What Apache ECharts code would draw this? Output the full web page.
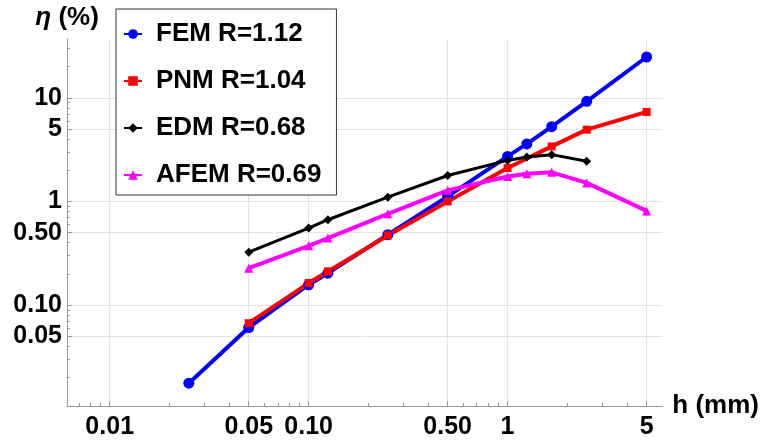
<!DOCTYPE html>
<html>
<head>
<meta charset="utf-8">
<script src="https://cdn.jsdelivr.net/npm/echarts@6/dist/echarts.min.js"></script>
<style>
html, body { margin: 0; padding: 0; background: #fff; }
#chart { width: 762px; height: 441px; }
</style>
</head>
<body>
<div id="chart"></div>
<script>
// Mesh size h (mm) and error eta (%) for each method
const hFEM = [0.025, 0.05, 0.1, 0.125, 0.25, 0.5, 1, 1.25, 1.667, 2.5, 5];
const etaFEM = [0.0176, 0.0606, 0.157, 0.203, 0.477, 1.12, 2.72, 3.59, 5.27, 9.25, 24.8];
const hPNM = [0.05, 0.1, 0.125, 0.25, 0.5, 1, 1.667, 2.5, 5];
const etaPNM = [0.0668, 0.163, 0.211, 0.47, 1.0, 2.10, 3.40, 4.93, 7.31];
const hEDM = [0.05, 0.1, 0.125, 0.25, 0.5, 1, 1.25, 1.667, 2.5];
const etaEDM = [0.324, 0.553, 0.666, 1.10, 1.78, 2.49, 2.69, 2.83, 2.44];
const hAFEM = [0.05, 0.1, 0.125, 0.25, 0.5, 1, 1.25, 1.667, 2.5, 5];
const etaAFEM = [0.227, 0.373, 0.443, 0.76, 1.28, 1.74, 1.85, 1.91, 1.51, 0.81];

const seriesNames = ['FEM R=1.12', 'PNM R=1.04', 'EDM R=0.68', 'AFEM R=0.69'];

// Labelled ticks
const xTickValues = [0.01, 0.05, 0.1, 0.5, 1, 5];
const xTickLabels = ['0.01', '0.05', '0.10', '0.50', '1', '5'];
const yTickValues = [0.05, 0.1, 0.5, 1, 5, 10];
const yTickLabels = ['0.05', '0.10', '0.50', '1', '5', '10'];
// Unlabelled minor ticks
const xMinorValues = [0.007, 0.008, 0.009, 0.02, 0.03, 0.04, 0.06, 0.07, 0.08, 0.09,
  0.2, 0.3, 0.4, 0.6, 0.7, 0.8, 0.9, 2, 3, 4];
const yMinorValues = [0.02, 0.03, 0.04, 0.06, 0.07, 0.08, 0.09, 0.2, 0.3, 0.4,
  0.6, 0.7, 0.8, 0.9, 2, 3, 4, 6, 7, 8, 9, 20, 30];

const X_MIN = 0.0061, X_MAX = 6.0;
const Y_MIN = 0.0106, Y_MAX = 37;

const FONT = '"Liberation Sans", Arial, sans-serif';
const axisGray = '#9a9a9a';
const gridGray = '#e4e4e4';

function pairs(xs, ys) { return xs.map((x, i) => [x, ys[i]]); }
function labelFor(values, labels) {
  return v => {
    for (let i = 0; i < values.length; i++) {
      if (Math.abs(v - values[i]) / values[i] < 1e-6) return labels[i];
    }
    return '';
  };
}

const chart = echarts.init(document.getElementById('chart'), null, { renderer: 'canvas' });

const baseX = { type: 'log', min: X_MIN, max: X_MAX, logBase: 10, position: 'bottom', offset: 0 };
const baseY = { type: 'log', min: Y_MIN, max: Y_MAX, logBase: 10, position: 'left', offset: 0 };

chart.setOption({
  animation: false,
  backgroundColor: '#fff',
  grid: { left: 67, right: 99, top: 39, bottom: 35, containLabel: false },
  legend: {
    orient: 'vertical',
    left: 116, top: 9,
    padding: [12, 15, 7, 7],
    itemGap: 21,
    itemWidth: 18, itemHeight: 12,
    borderColor: '#333', borderWidth: 1,
    backgroundColor: '#fff',
    data: seriesNames,
    textStyle: {
      fontFamily: FONT, fontWeight: 'bold', fontSize: 26, color: '#000',
      lineHeight: 26, padding: [0, 0, 0, 9]
    }
  },
  xAxis: [
    Object.assign({}, baseX, {
      name: 'h (mm)', nameLocation: 'end', nameGap: 10,
      nameTextStyle: { fontFamily: FONT, fontWeight: 'bold', fontSize: 26, color: '#000', verticalAlign: 'middle' },
      axisLine: { show: true, lineStyle: { color: axisGray, width: 1 } },
      axisTick: { show: true, inside: true, length: 5, customValues: xTickValues, lineStyle: { color: axisGray } },
      axisLabel: {
        customValues: xTickValues, formatter: labelFor(xTickValues, xTickLabels),
        fontFamily: FONT, fontWeight: 'bold', fontSize: 25, color: '#000', margin: 9
      },
      splitLine: { show: true, lineStyle: { color: gridGray, width: 1 } }
    }),
    Object.assign({}, baseX, {
      axisLine: { show: false },
      axisTick: { show: true, inside: true, length: 3, customValues: xMinorValues, lineStyle: { color: axisGray } },
      axisLabel: { show: false },
      splitLine: { show: false }
    })
  ],
  yAxis: [
    Object.assign({}, baseY, {
      name: '{i|η} {n|(%)}', nameLocation: 'end', nameGap: 8,
      nameTextStyle: {
        rich: {
          i: { fontFamily: FONT, fontWeight: 'bold', fontStyle: 'italic', fontSize: 26, color: '#000' },
          n: { fontFamily: FONT, fontWeight: 'bold', fontSize: 26, color: '#000', padding: [0, 0, 0, 4] }
        }
      },
      axisLine: { show: true, lineStyle: { color: axisGray, width: 1 } },
      axisTick: { show: true, inside: true, length: 5, customValues: yTickValues, lineStyle: { color: axisGray } },
      axisLabel: {
        customValues: yTickValues, formatter: labelFor(yTickValues, yTickLabels),
        fontFamily: FONT, fontWeight: 'bold', fontSize: 25, color: '#000', margin: 5
      },
      splitLine: { show: true, lineStyle: { color: gridGray, width: 1 } }
    }),
    Object.assign({}, baseY, {
      axisLine: { show: false },
      axisTick: { show: true, inside: true, length: 3, customValues: yMinorValues, lineStyle: { color: axisGray } },
      axisLabel: { show: false },
      splitLine: { show: false }
    })
  ],
  series: [
    {
      name: seriesNames[0], type: 'line', data: pairs(hFEM, etaFEM),
      symbol: 'circle', symbolSize: 11,
      lineStyle: { color: '#0000ff', width: 4 }, itemStyle: { color: '#0000ff' }
    },
    {
      name: seriesNames[1], type: 'line', data: pairs(hPNM, etaPNM),
      symbol: 'rect', symbolSize: 8,
      lineStyle: { color: '#ff0000', width: 4 }, itemStyle: { color: '#ff0000' }
    },
    {
      name: seriesNames[2], type: 'line', data: pairs(hEDM, etaEDM),
      symbol: 'diamond', symbolSize: [9, 9],
      lineStyle: { color: '#000000', width: 3 }, itemStyle: { color: '#000000' }
    },
    {
      name: seriesNames[3], type: 'line', data: pairs(hAFEM, etaAFEM),
      symbol: 'triangle', symbolSize: 9,
      lineStyle: { color: '#ff00ff', width: 4 }, itemStyle: { color: '#ff00ff' }
    }
  ]
});
</script>
</body>
</html>
